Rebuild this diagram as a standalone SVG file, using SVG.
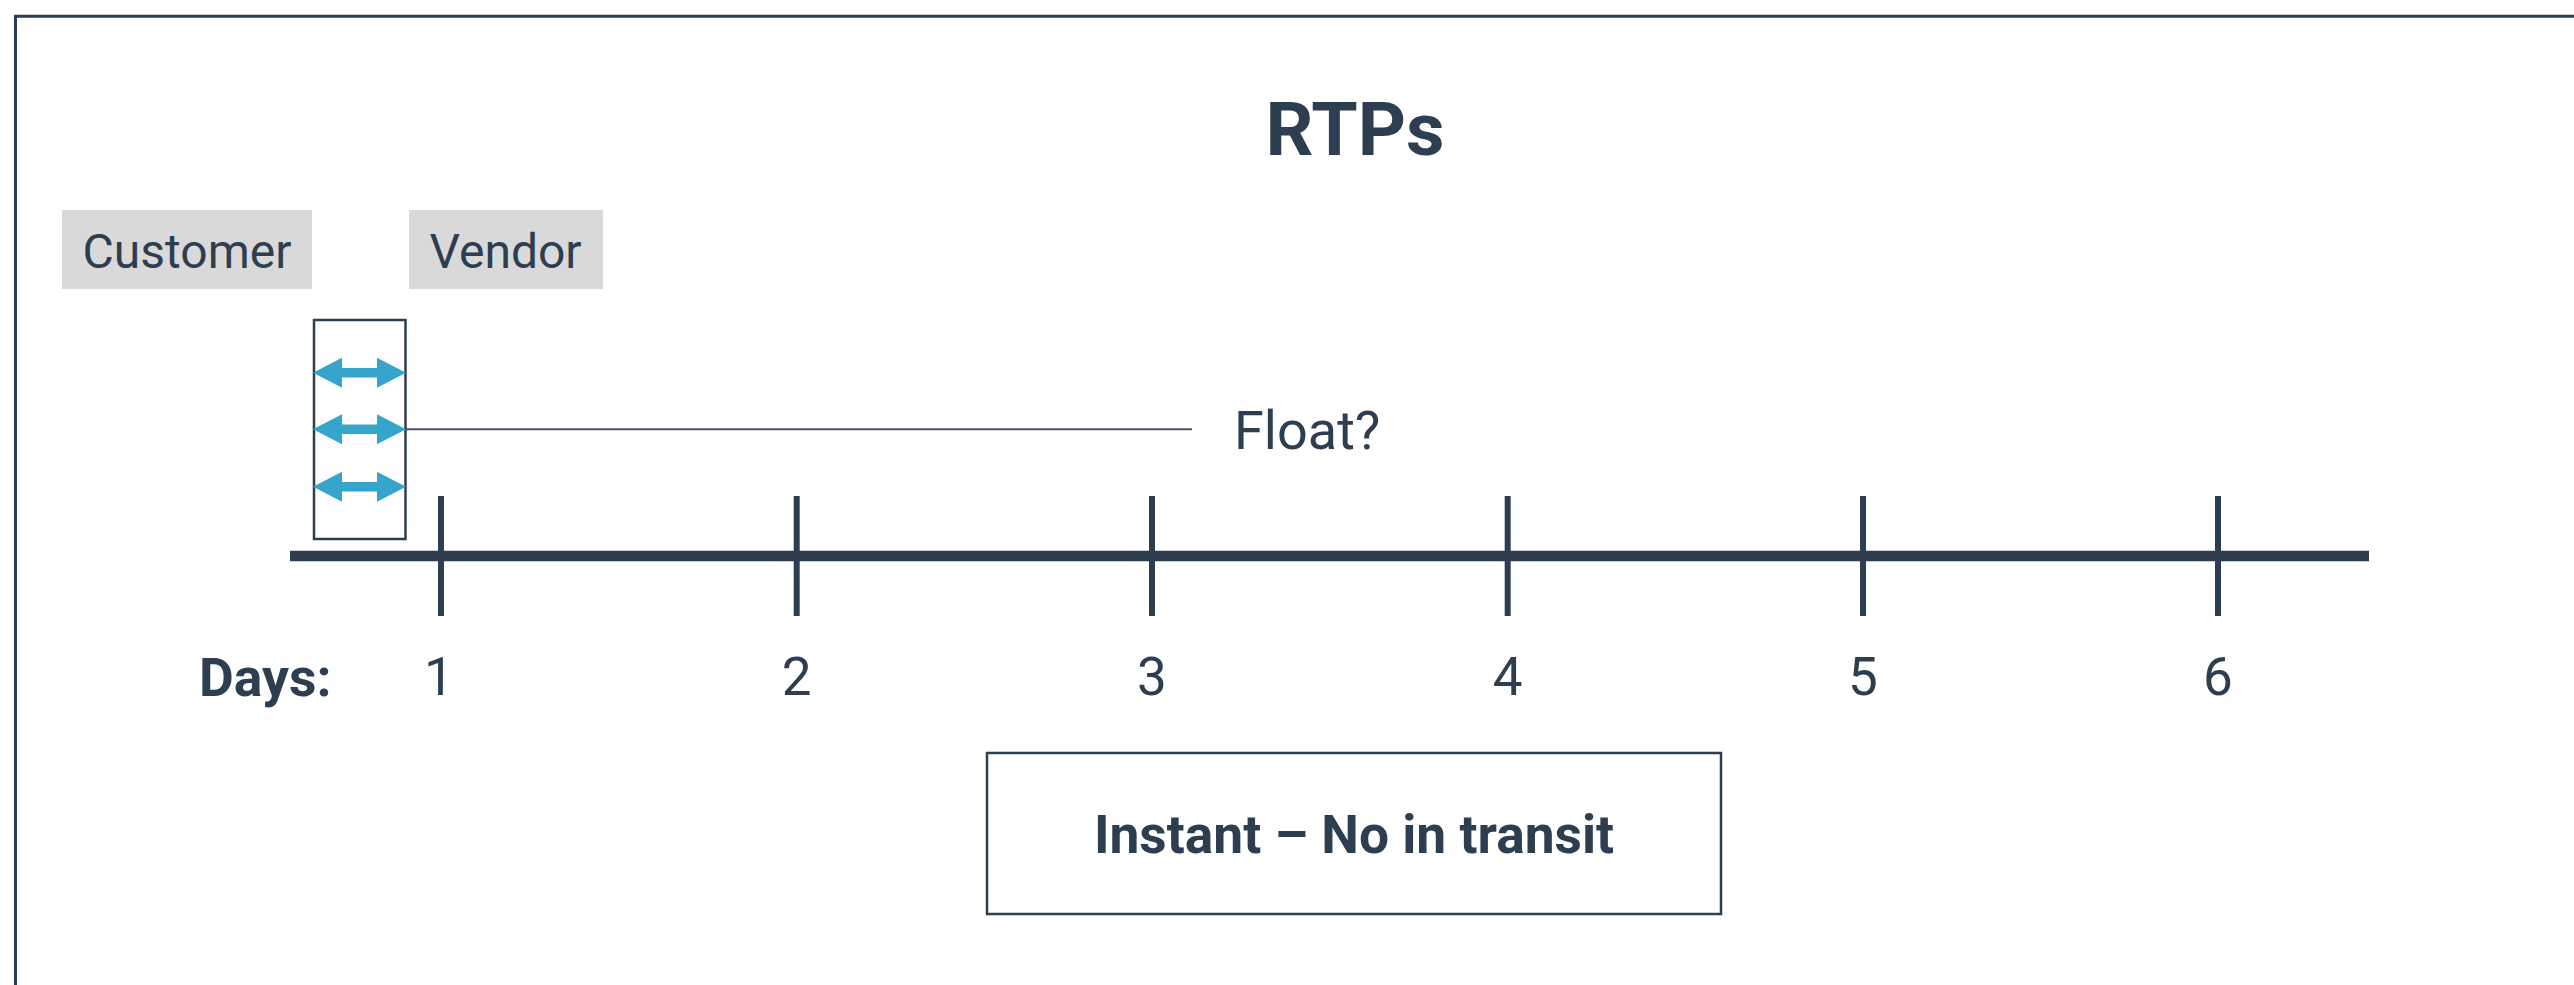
<svg xmlns="http://www.w3.org/2000/svg" width="2574" height="985" viewBox="0 0 2574 985">
<style>
  text { font-family: Roboto, "Liberation Sans", sans-serif; fill: #2d3e50; }
  .b { font-weight: 700; }
  .mid { text-anchor: middle; }
  .tag { fill: #d9d9d9; }
  .tick { stroke: #2d3e50; stroke-width: 6; }
  .arr { fill: #36a5cc; }
</style>
<defs>
  <polygon id="dbl" class="arr" points="313,0 342,-15 342,-4.7 377,-4.7 377,-15 406,0 377,15 377,4.7 342,4.7 342,15"/>
</defs>
<rect width="2574" height="985" fill="#ffffff"/>
<path d="M15.5,985 V16.3 H2574" fill="none" stroke="#2d3e50" stroke-width="3"/>

<g id="title"><text class="b mid" x="1355" y="155" font-size="75">RTPs</text></g>

<g id="customer">
  <rect class="tag" x="62" y="210" width="250" height="79"/>
  <text class="mid" x="187" y="268" font-size="48">Customer</text>
</g>
<g id="vendor">
  <rect class="tag" x="409" y="210" width="194" height="79"/>
  <text class="mid" x="505.5" y="268" font-size="48">Vendor</text>
</g>

<g id="transfer-box">
  <rect x="314" y="320" width="91.5" height="219" fill="none" stroke="#2d3e50" stroke-width="2.5"/>
  <use href="#dbl" y="372.7"/>
  <use href="#dbl" y="429.3"/>
  <use href="#dbl" y="486.7"/>
</g>

<g id="connectors">
  <line x1="406" y1="429.3" x2="1192" y2="429.3" stroke="#4b5666" stroke-width="2"/>
</g>

<g id="float-label"><text x="1234" y="449" font-size="54">Float?</text></g>

<g id="axis">
  <line x1="290" y1="556" x2="2369" y2="556" stroke="#2d3e50" stroke-width="10.5"/>
  <line class="tick" x1="441" y1="496" x2="441" y2="616"/>
  <line class="tick" x1="796.7" y1="496" x2="796.7" y2="616"/>
  <line class="tick" x1="1152" y1="496" x2="1152" y2="616"/>
  <line class="tick" x1="1507.7" y1="496" x2="1507.7" y2="616"/>
  <line class="tick" x1="1863" y1="496" x2="1863" y2="616"/>
  <line class="tick" x1="2218" y1="496" x2="2218" y2="616"/>
</g>

<g id="day-labels">
  <text class="b" x="199" y="695.5" font-size="53.5">Days:</text>
  <text class="mid" x="439" y="695" font-size="53">1</text>
  <text class="mid" x="796.7" y="695" font-size="53">2</text>
  <text class="mid" x="1152" y="695" font-size="53">3</text>
  <text class="mid" x="1507.7" y="695" font-size="53">4</text>
  <text class="mid" x="1863" y="695" font-size="53">5</text>
  <text class="mid" x="2218" y="695" font-size="53">6</text>
</g>

<g id="instant">
  <rect x="987" y="753" width="734" height="161" fill="#ffffff" stroke="#2d3e50" stroke-width="2.5"/>
  <text class="b mid" x="1354" y="852.7" font-size="53.3">Instant – No in transit</text>
</g>
</svg>
